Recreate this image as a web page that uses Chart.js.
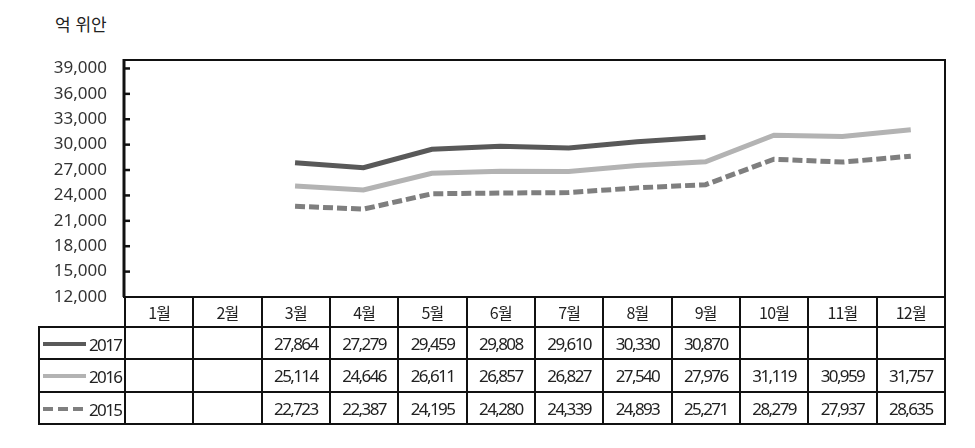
<!DOCTYPE html>
<html lang="ko">
<head>
<meta charset="utf-8">
<script src="https://cdn.jsdelivr.net/npm/chart.js@4.4.1/dist/chart.umd.min.js"></script>
<style>
body { margin: 0; width: 975px; height: 448px; background: #fff; position: relative; overflow: hidden;
       font-family: "Noto Sans", "Noto Sans CJK KR", sans-serif; color: #222; }
#unit { position: absolute; left: 55px; top: 11px; font-size: 17px; font-family: "Noto Sans CJK KR", sans-serif; }
#chart { position: absolute; left: 0; top: 0; }
#tbl { position: absolute; left: 38px; top: 296px; border-collapse: collapse; table-layout: fixed; width: 908px; }
#tbl td { border: 2px solid #111; text-align: center; padding: 0; font-size: 17px; letter-spacing: -1.6px; color: #222; }
#tbl tr.head td { font-family: "Noto Sans CJK KR", sans-serif; font-size: 16px; letter-spacing: -0.8px; }
#tbl td.blank { border-top: none; border-left: none; }
#tbl td.leg { text-align: left; }
.sample { display: inline-block; width: 43px; height: 4px; vertical-align: middle; margin: 0 3px 0 3px; }
.yr { vertical-align: middle; }
</style>
</head>
<body>
<div id="unit">억 위안</div>
<canvas id="chart" width="975" height="448"></canvas>
<table id="tbl"></table>
<script>
// 데이터
const months = ['1월', '2월', '3월', '4월', '5월', '6월', '7월', '8월', '9월', '10월', '11월', '12월'];
const years = ['2017', '2016', '2015'];
const s2017 = [null, null, 27864, 27279, 29459, 29808, 29610, 30330, 30870, null, null, null];
const s2016 = [null, null, 25114, 24646, 26611, 26857, 26827, 27540, 27976, 31119, 30959, 31757];
const s2015 = [null, null, 22723, 22387, 24195, 24280, 24339, 24893, 25271, 28279, 27937, 28635];
const yTicks = [12000, 15000, 18000, 21000, 24000, 27000, 30000, 33000, 36000, 39000];

const series = [s2017, s2016, s2015];
const colors = ['#595959', '#b3b3b3', '#7f7f7f'];
const yMin = 12000;
const yMax = 40000;

const fmt = v => v == null ? '' : v.toLocaleString('en-US');

// frame + inward tick marks
const framePlugin = {
    id: 'frame',
    afterDraw(chart) {
        const { ctx, chartArea: a, scales: { y } } = chart;
        ctx.save();
        ctx.strokeStyle = '#111';
        ctx.lineWidth = 2;
        ctx.strokeRect(a.left, a.top, a.right - a.left, a.bottom - a.top);
        ctx.lineWidth = 3;
        ctx.beginPath();
        ctx.moveTo(a.left, a.top - 1);
        ctx.lineTo(a.left, a.bottom);
        ctx.stroke();
        ctx.lineWidth = 2.5;
        y.ticks.forEach(t => {
            if (t.value === yMin) return;
            const py = y.getPixelForValue(t.value);
            ctx.beginPath();
            ctx.moveTo(a.left, py);
            ctx.lineTo(a.left + 6, py);
            ctx.stroke();
        });
        ctx.restore();
    }
};

const ctx = document.getElementById('chart').getContext('2d');
new Chart(ctx, {
    type: 'line',
    data: {
        labels: months,
        datasets: [
            { label: years[2], data: s2015, borderColor: colors[2], borderWidth: 5, borderDash: [10, 4] },
            { label: years[1], data: s2016, borderColor: colors[1], borderWidth: 5 },
            { label: years[0], data: s2017, borderColor: colors[0], borderWidth: 5 }
        ]
    },
    options: {
        responsive: false,
        animation: false,
        layout: { padding: { left: 0, top: 60, right: 30, bottom: 151 } },
        elements: { point: { radius: 0 }, line: { tension: 0, borderCapStyle: 'butt' } },
        plugins: { legend: { display: false }, tooltip: { enabled: false } },
        scales: {
            x: { type: 'category', offset: true, display: false },
            y: {
                min: yMin,
                max: yMax,
                afterBuildTicks: s => { s.ticks = yTicks.map(v => ({ value: v })); },
                afterFit: s => { s.width = 124; },
                grid: { display: false, drawTicks: false },
                border: { display: false },
                ticks: {
                    padding: 17,
                    color: '#333',
                    font: { family: 'Noto Sans', size: 17 },
                    callback: v => fmt(v)
                }
            }
        }
    },
    plugins: [framePlugin]
});

// data table under the chart
const tbl = document.getElementById('tbl');
let html = '<colgroup><col style="width:86px">';
months.forEach(() => { html += '<col>'; });
html += '</colgroup>';
html += '<tr class="head" style="height:30px"><td class="blank"></td>';
months.forEach(m => { html += '<td>' + m + '</td>'; });
html += '</tr>';
const rowH = [32, 33, 32];
years.forEach((yr, i) => {
    let bg = colors[i];
    if (i === 2) bg = 'repeating-linear-gradient(to right, ' + colors[i] + ' 0 10px, transparent 10px 15px)';
    html += '<tr style="height:' + rowH[i] + 'px"><td class="leg"><span class="sample" style="background:' + bg + '"></span><span class="yr">' + yr + '</span></td>';
    series[i].forEach(v => { html += '<td>' + fmt(v) + '</td>'; });
    html += '</tr>';
});
tbl.innerHTML = html;
</script>
</body>
</html>
